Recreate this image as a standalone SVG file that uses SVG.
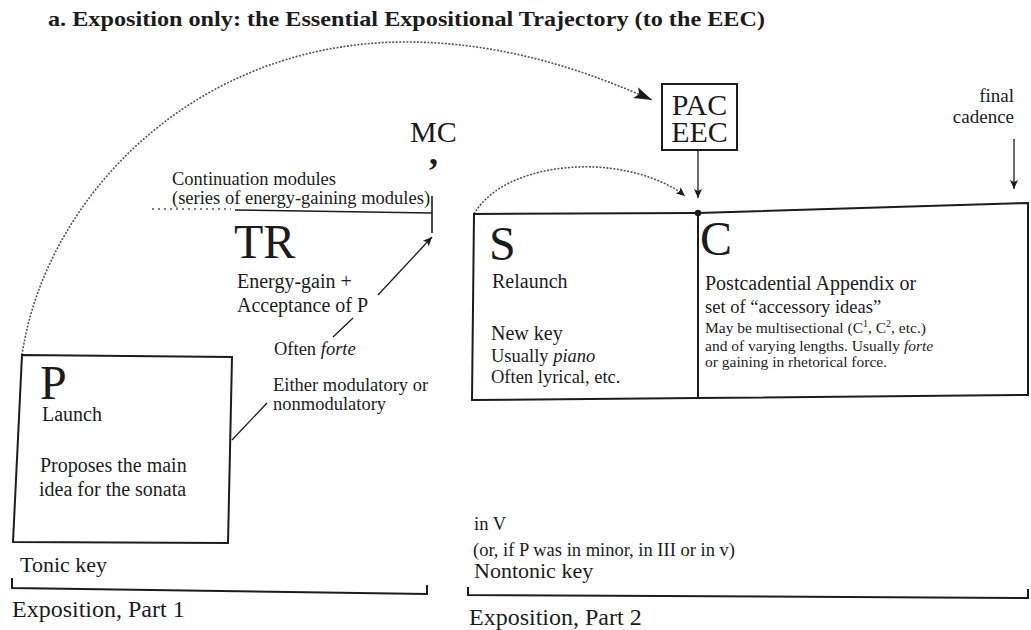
<svg xmlns="http://www.w3.org/2000/svg" width="1031" height="630" viewBox="0 0 1031 630">
  <style>
    text { font-family: "Liberation Serif", "Times New Roman", serif; fill: #1c1c1c; }
    .title { font-size: 22px; font-weight: bold; }
    .big { font-size: 48px; }
    .mid { font-size: 30px; }
    .lbl { font-size: 20px; }
    .sm { font-size: 18.5px; }
    .xs { font-size: 15.5px; }
    .key { font-size: 22px; }
    .part { font-size: 24px; }
    .box { fill: none; stroke: #1c1c1c; stroke-width: 2; stroke-linejoin: miter; }
    .ln { fill: none; stroke: #1c1c1c; stroke-width: 1.6; }
    .thin { fill: none; stroke: #1c1c1c; stroke-width: 1.3; }
    .dot { fill: none; stroke: #555; stroke-width: 1.6; stroke-dasharray: 2 1.5; }
    .dotted { fill: none; stroke: #555; stroke-width: 1.6; stroke-dasharray: 2 4; }
    .br { fill: none; stroke: #1c1c1c; stroke-width: 2; }
  </style>
  <defs>
    <marker id="bigArrow" markerUnits="userSpaceOnUse" viewBox="0 0 18 12" refX="18" refY="6" markerWidth="18" markerHeight="12" orient="auto">
      <path d="M0,0 L18,6 L0,12 L4,6 z" fill="#1c1c1c"/>
    </marker>
    <marker id="smArrow" markerUnits="userSpaceOnUse" viewBox="0 0 9 8" refX="9" refY="4" markerWidth="9" markerHeight="8" orient="auto">
      <path d="M0,0 L9,4 L0,8 L2,4 z" fill="#1c1c1c"/>
    </marker>
  </defs>

  <g id="title">
    <text class="title" x="48" y="26" textLength="717" lengthAdjust="spacingAndGlyphs">a. Exposition only: the Essential Expositional Trajectory (to the EEC)</text>
  </g>

  <g id="connectors">
    <path id="arc-P-to-EEC" class="dot" d="M22,355 C45,200 190,45 400,42 C500,41 585,70 652,100" marker-end="url(#bigArrow)"/>
    <path id="arc-S-to-EEC" class="dot" d="M474,214 C495,178 550,165 595,167 C635,169 668,182 685,196" marker-end="url(#smArrow)"/>
    <line id="pac-arrow" class="thin" x1="698" y1="150" x2="698" y2="198" marker-end="url(#smArrow)"/>
    <line id="final-arrow" class="thin" x1="1014" y1="139" x2="1014" y2="189" marker-end="url(#smArrow)"/>
    <line id="tr-arrow" class="thin" x1="378" y1="295" x2="432" y2="237" marker-end="url(#smArrow)"/>
    <line id="forte-line" class="thin" x1="333" y1="337" x2="353" y2="318"/>
    <line id="modulatory-line" class="thin" x1="232" y1="440" x2="267" y2="403"/>
  </g>

  <g id="node-P">
    <polygon class="box" points="22,355 232,357 228,543 13,542"/>
    <text class="big" x="40" y="399">P</text>
    <text class="lbl" x="42" y="421">Launch</text>
    <text class="lbl" x="40" y="472">Proposes the main</text>
    <text class="lbl" x="39" y="496">idea for the sonata</text>
  </g>

  <g id="node-TR">
    <line class="dotted" x1="152" y1="209" x2="231" y2="209"/>
    <line class="ln" x1="235" y1="210" x2="432" y2="213"/>
    <line class="ln" x1="432" y1="196" x2="432" y2="233"/>
    <text class="sm" x="172" y="185">Continuation modules</text>
    <text class="sm" x="172" y="204">(series of energy-gaining modules)</text>
    <text class="big" x="234" y="258">TR</text>
    <text class="lbl" x="237" y="288">Energy-gain +</text>
    <text class="lbl" x="237" y="312">Acceptance of P</text>
    <text class="sm" x="274" y="355">Often <tspan font-style="italic">forte</tspan></text>
    <text class="sm" x="273" y="391">Either modulatory or</text>
    <text class="sm" x="273" y="410">nonmodulatory</text>
  </g>

  <g id="node-MC">
    <text class="mid" x="410" y="142">MC</text>
    <text x="429" y="164" style="font-size:36px;font-weight:bold">,</text>
  </g>

  <g id="node-PAC">
    <rect class="box" x="662" y="84" width="75" height="66" stroke-width="1.6"/>
    <text class="mid" x="699.5" y="115" text-anchor="middle">PAC</text>
    <text class="mid" x="699.5" y="142" text-anchor="middle">EEC</text>
  </g>

  <g id="node-final">
    <text x="1014" y="102" text-anchor="end" style="font-size:19px">final</text>
    <text x="1014" y="123" text-anchor="end" style="font-size:19px">cadence</text>
  </g>

  <g id="node-S">
    <polyline class="box" points="698,213 474,214 472,400 698,398"/>
    <text class="big" x="489" y="260">S</text>
    <text class="lbl" x="492" y="288">Relaunch</text>
    <text class="lbl" x="491" y="340">New key</text>
    <text class="sm" x="491" y="362">Usually <tspan font-style="italic">piano</tspan></text>
    <text class="sm" x="491" y="383">Often lyrical, etc.</text>
  </g>

  <g id="node-C">
    <polyline class="box" points="698,213 1028,203 1028,395 698,398 698,213"/>
    <circle cx="698" cy="213" r="3.2" fill="#1c1c1c"/>
    <text class="big" x="700" y="255">C</text>
    <text class="lbl" x="705" y="290">Postcadential Appendix or</text>
    <text x="705" y="313" style="font-size:18.5px">set of “accessory ideas”</text>
    <text class="xs" x="705" y="333">May be multisectional (C<tspan font-size="10" dy="-6">1</tspan><tspan dy="6">, C</tspan><tspan font-size="10" dy="-6">2</tspan><tspan dy="6">, etc.)</tspan></text>
    <text class="xs" x="705" y="351">and of varying lengths. Usually <tspan font-style="italic">forte</tspan></text>
    <text class="xs" x="705" y="367">or gaining in rhetorical force.</text>
  </g>

  <g id="part1">
    <text class="key" x="20" y="572">Tonic key</text>
    <polyline class="br" points="12,578 12,588 427,594 427,585"/>
    <text class="part" x="12" y="617">Exposition, Part 1</text>
  </g>

  <g id="part2">
    <text class="sm" x="474" y="530">in V</text>
    <text class="sm" x="473" y="556">(or, if P was in minor, in III or in v)</text>
    <text class="key" x="474" y="578">Nontonic key</text>
    <polyline class="br" points="468,587 468,595 1028,598 1028,589"/>
    <text class="part" x="469" y="625">Exposition, Part 2</text>
  </g>
</svg>
